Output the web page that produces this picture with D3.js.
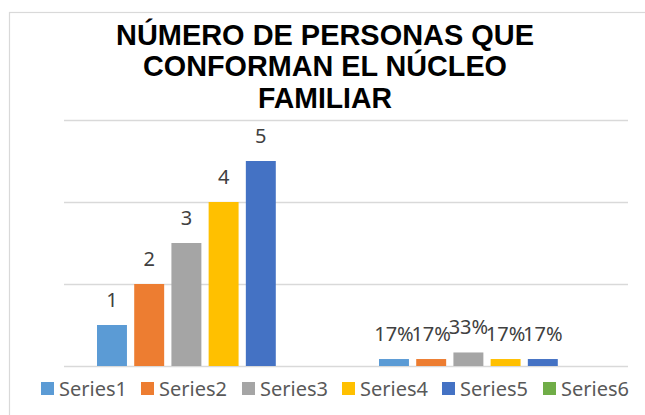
<!DOCTYPE html>
<html>
<head>
<meta charset="utf-8">
<script src="https://cdn.jsdelivr.net/npm/d3@7/dist/d3.min.js"></script>
<style>
  html, body { margin: 0; padding: 0; background: #fff; }
  svg { display: block; }
</style>
</head>
<body>
<svg id="chart" width="645" height="415"></svg>
<script>
// ---- data ----
const titleLines = ["NÚMERO DE PERSONAS QUE", "CONFORMAN EL NÚCLEO", "FAMILIAR"];
const categories = ["Cantidad", "Porcentaje"];
const seriesNames = ["Series1", "Series2", "Series3", "Series4", "Series5", "Series6"];
const series1 = [1, 0.17];
const series2 = [2, 0.17];
const series3 = [3, 0.33];
const series4 = [4, 0.17];
const series5 = [5, 0.17];
const series6 = [null, null];
const labelFormats = ["d", ".0%"];
const yTicks = [0, 2, 4, 6];
const colors = ["#5B9BD5", "#ED7D31", "#A5A5A5", "#FFC000", "#4472C4", "#70AD47"];

const allSeries = [series1, series2, series3, series4, series5, series6];

const svg = d3.select("#chart");

// chart area border
svg.append("rect")
  .attr("x", 9.5).attr("y", 12.5)
  .attr("width", 700).attr("height", 500)
  .attr("fill", "#fff").attr("stroke", "#d9d9d9").attr("stroke-width", 1.2);

// title
const titleWidths = [418, 364, 134];
const title = svg.append("g");
titleLines.forEach((t, i) => {
  title.append("text")
    .attr("x", 325).attr("y", 44.5 + i * 31.5)
    .attr("text-anchor", "middle")
    .attr("font-family", "'Liberation Sans', Arial, sans-serif")
    .attr("font-weight", "bold")
    .attr("font-size", 29.5)
    .attr("fill", "#000")
    .attr("textLength", titleWidths[i])
    .attr("lengthAdjust", "spacingAndGlyphs")
    .text(t);
});

// scales
const plot = { left: 64, right: 628, top: 120, bottom: 366 };
const x0 = d3.scaleBand().domain(categories).range([plot.left, plot.right]).paddingInner(0).paddingOuter(0);
const grpPad = 33;
const x1 = d3.scaleBand().domain(seriesNames)
  .range([grpPad, x0.bandwidth() - grpPad])
  .paddingInner(0.195).paddingOuter(0);
const y = d3.scaleLinear().domain([0, 6]).range([plot.bottom, plot.top]);

// gridlines
const grid = d3.axisLeft(y).tickValues(yTicks).tickSize(-(plot.right - plot.left)).tickFormat("");
const gg = svg.append("g").attr("transform", `translate(${plot.left},0)`).call(grid);
gg.select(".domain").remove();
gg.selectAll(".tick line").attr("stroke", "#d9d9d9").attr("stroke-width", 1.5);

// bars
const data = [];
seriesNames.forEach((s, si) => {
  categories.forEach((c, ci) => {
    const v = allSeries[si][ci];
    if (v !== null && v !== undefined) data.push({ s, si, c, ci, v });
  });
});

svg.append("g").selectAll("rect").data(data).join("rect")
  .attr("x", d => x0(d.c) + x1(d.s))
  .attr("y", d => y(d.v))
  .attr("width", x1.bandwidth())
  .attr("height", d => y(0) - y(d.v))
  .attr("fill", d => colors[d.si]);

// labels
svg.append("g").selectAll("text").data(data).join("text")
  .attr("x", d => x0(d.c) + x1(d.s) + x1.bandwidth() / 2)
  .attr("y", d => y(d.v) - 18)
  .attr("text-anchor", "middle")
  .attr("font-family", "'Noto Sans', sans-serif")
  .attr("font-size", 20)
  .attr("fill", "#404040")
  .text(d => d3.format(labelFormats[d.ci])(d.v));

// legend
const legendX = [41, 141, 242, 342, 442, 543];
const lg = svg.append("g");
seriesNames.forEach((s, i) => {
  const g = lg.append("g").attr("transform", `translate(${legendX[i]},382)`);
  g.append("rect").attr("width", 13).attr("height", 13).attr("fill", colors[i]);
  g.append("text").attr("x", 18).attr("y", 14)
    .attr("font-family", "'Noto Sans', sans-serif")
    .attr("font-size", 20)
    .attr("fill", "#595959")
    .text(s);
});
</script>
</body>
</html>
